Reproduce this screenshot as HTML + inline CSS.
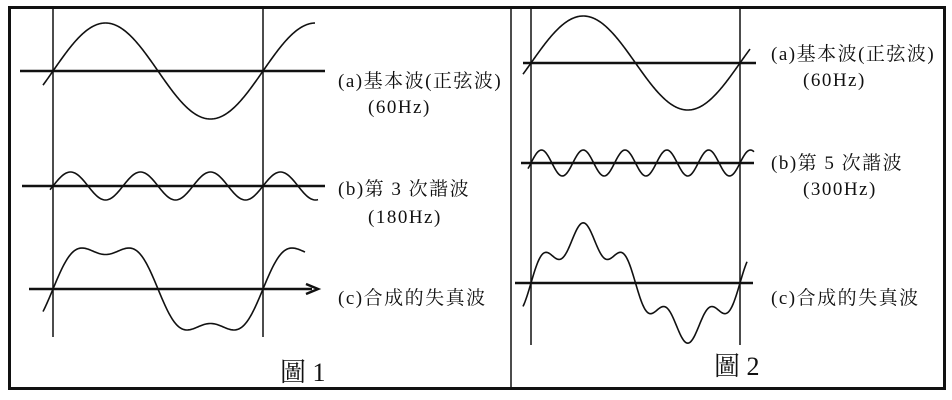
<!DOCTYPE html>
<html><head><meta charset="utf-8"><style>
html,body{margin:0;padding:0;background:#fff;}
svg{display:block}
text{font-family:"Liberation Serif","Noto Serif CJK SC",serif;fill:#111;}
</style></head><body>
<svg id="s" width="952" height="400" viewBox="0 0 952 400" xmlns="http://www.w3.org/2000/svg">
<rect x="9.5" y="7.5" width="935" height="381" fill="none" stroke="#111" stroke-width="3"/>
<line x1="511" y1="7" x2="511" y2="388" stroke="#111" stroke-width="1.5"/>
<g stroke="#111" stroke-width="1.5">
<line x1="53" y1="8" x2="53" y2="337"/><line x1="263" y1="8" x2="263" y2="337"/>
<line x1="531" y1="8" x2="531" y2="345"/><line x1="740" y1="8" x2="740" y2="345"/>
</g>
<g stroke="#111" stroke-width="2.5">
<line x1="20" y1="71" x2="325" y2="71"/>
<line x1="22" y1="186" x2="325" y2="186"/>
<line x1="29" y1="289" x2="312" y2="289"/>
<line x1="523" y1="63" x2="756" y2="63"/>
<line x1="521" y1="163" x2="754" y2="163"/>
<line x1="515" y1="283" x2="753" y2="283"/>
</g>
<path d="M306,284 L318,289 L306,294" fill="none" stroke="#111" stroke-width="2.5"/>
<g id="w" fill="none" stroke="#111" stroke-width="1.6"></g>
<g font-size="19" letter-spacing="1.5">
<text x="338" y="87">(a)基本波(正弦波)</text>
<text x="368" y="113">(60Hz)</text>
<text x="338" y="195">(b)第 3 次諧波</text>
<text x="368" y="223">(180Hz)</text>
<text x="338" y="304">(c)合成的失真波</text>
<text x="771" y="60">(a)基本波(正弦波)</text>
<text x="803" y="86">(60Hz)</text>
<text x="771" y="169">(b)第 5 次諧波</text>
<text x="803" y="195">(300Hz)</text>
<text x="771" y="304">(c)合成的失真波</text>
</g>
<text x="280" y="381" font-size="26">圖 1</text>
<text x="714" y="375" font-size="26">圖 2</text>
</svg>
<script>
var g=document.getElementById('w');
function wave(x0,x1,xs,per,cy,f){var d='';for(var x=x0;x<=x1;x+=1){var t=(x-xs)/per*2*Math.PI;d+=(d?'L':'M')+x+','+(cy-f(t)).toFixed(2);}
var p=document.createElementNS('http://www.w3.org/2000/svg','path');p.setAttribute('d',d);g.appendChild(p);}
wave(43,315,53,210,71,function(t){return 48*Math.sin(t);});
wave(50,318,53,70,186,function(t){return 14*Math.sin(t);});
wave(43,305,53,210,289,function(t){return 46*(Math.sin(t)+0.25*Math.sin(3*t));});
wave(523,750,531,209,63,function(t){return 47*Math.sin(t);});
wave(528,754,531,41.8,163,function(t){return 13*Math.sin(t);});
wave(523,747,531,209,283,function(t){return 47*(Math.sin(t)+0.28*Math.sin(5*t));});
</script>
</body></html>
